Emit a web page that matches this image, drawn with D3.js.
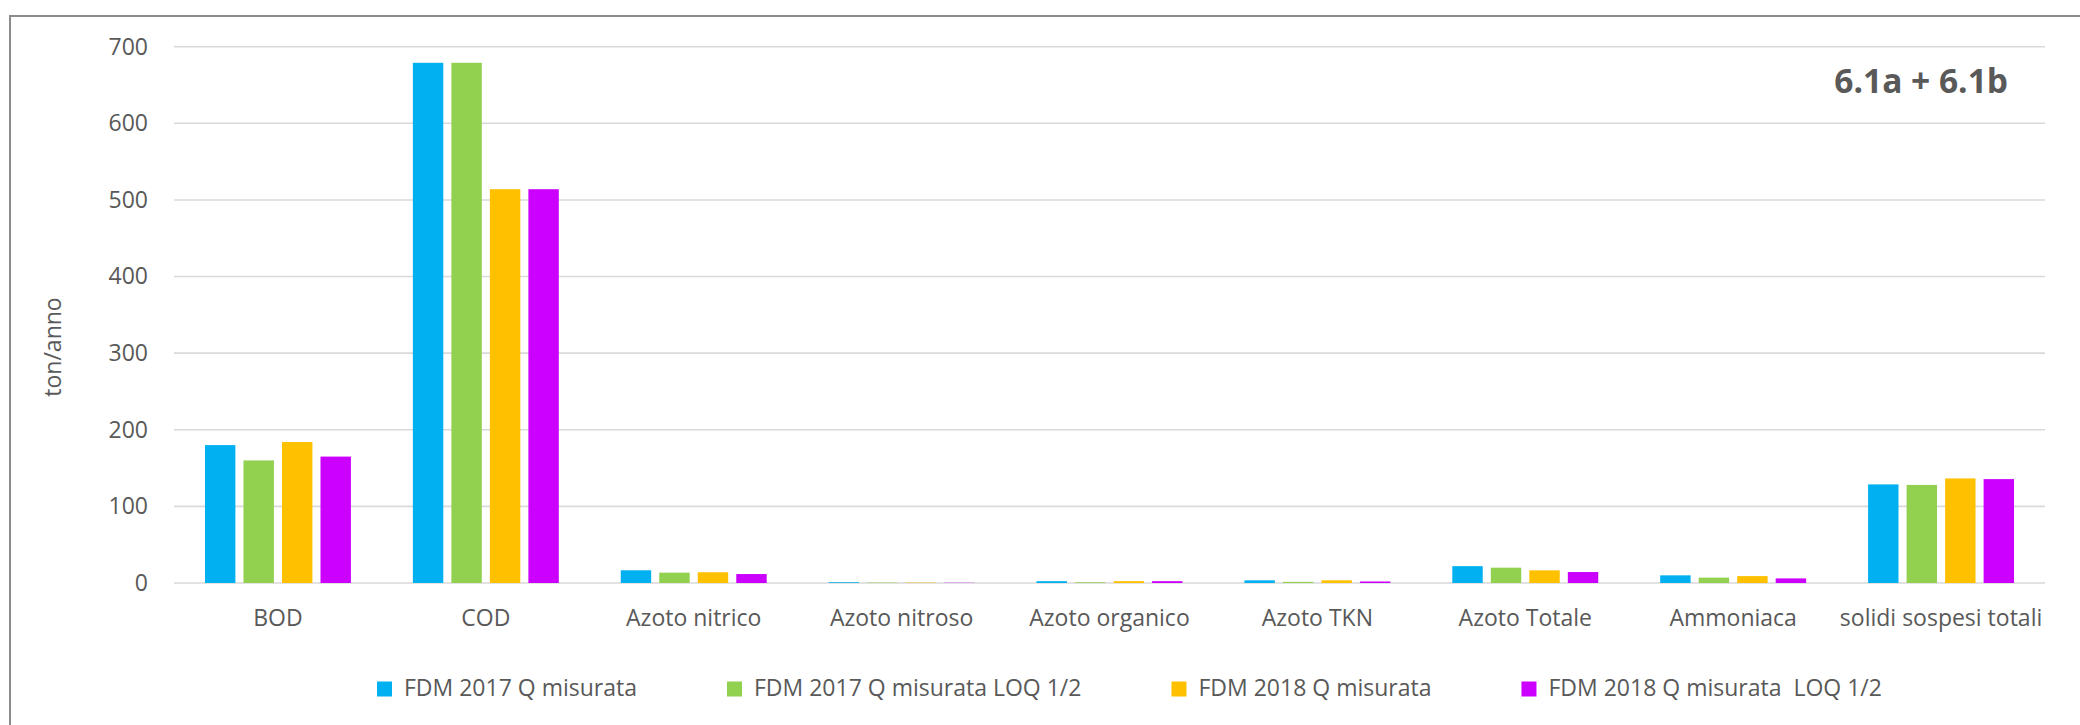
<!DOCTYPE html>
<html>
<head>
<meta charset="utf-8">
<script src="https://cdn.jsdelivr.net/npm/d3@7"></script>
<style>
  html, body { margin: 0; padding: 0; background: #fff; }
  svg { display: block; }
  text { font-family: "Open Sans", sans-serif; fill: #595959; }
</style>
</head>
<body>
<svg id="chart" width="2080" height="725"></svg>
<script>
const categories = ["BOD", "COD", "Azoto nitrico", "Azoto nitroso", "Azoto organico", "Azoto TKN", "Azoto Totale", "Ammoniaca", "solidi sospesi totali"];
const seriesNames = ["FDM 2017 Q misurata", "FDM 2017 Q misurata LOQ 1/2", "FDM 2018 Q misurata", "FDM 2018 Q misurata  LOQ 1/2"];
const seriesColors = ["#00B0F0", "#92D050", "#FFC000", "#CC00FF"];
const fdm2017 =       [180, 679, 16.6, 1.0, 2.4, 3.5, 22.0, 10.0, 128.7];
const fdm2017LOQ =    [160, 679, 13.5, 0.5, 1.0, 1.5, 20.0,  7.0, 128.0];
const fdm2018 =       [184, 514, 14.0, 0.5, 2.4, 3.5, 16.5,  9.0, 136.5];
const fdm2018LOQ =    [165, 514, 11.7, 0.3, 2.4, 2.0, 14.3,  6.0, 135.6];
const yTicks = [0, 100, 200, 300, 400, 500, 600, 700];
const yLabel = "ton/anno";
const annotation = "6.1a + 6.1b";

const seriesValues = [fdm2017, fdm2017LOQ, fdm2018, fdm2018LOQ];

const svg = d3.select("#chart");

// outer frame
svg.append("rect")
  .attr("x", 10).attr("y", 16)
  .attr("width", 2200).attr("height", 900)
  .attr("fill", "none").attr("stroke", "#8c8c8c").attr("stroke-width", 2);

const y = d3.scaleLinear().domain([0, 700]).range([583, 46.7]);
const x0 = d3.scaleBand().domain(categories).range([174, 2045])
  .paddingInner(0.298).paddingOuter(0.149);
const x1 = d3.scaleBand().domain(d3.range(seriesNames.length))
  .range([0, x0.bandwidth()]).paddingInner(0.21);

// gridlines
svg.append("g").selectAll("line").data(yTicks).join("line")
  .attr("x1", 174).attr("x2", 2045)
  .attr("y1", d => y(d)).attr("y2", d => y(d))
  .attr("stroke", "#d9d9d9").attr("stroke-width", 1.6);

// y axis tick labels
const yAxis = d3.axisLeft(y).tickValues(yTicks).tickSize(0).tickPadding(0);
const gy = svg.append("g").attr("transform", "translate(148,0)").call(yAxis);
gy.select(".domain").remove();
gy.selectAll("text")
  .attr("font-family", "Open Sans, sans-serif")
  .attr("font-size", 23).attr("fill", "#595959");

// bars
const groups = svg.append("g").selectAll("g").data(categories).join("g")
  .attr("transform", d => `translate(${x0(d)},0)`);
groups.selectAll("rect")
  .data((c, ci) => seriesValues.map((vals, si) => ({ si, v: vals[ci] })))
  .join("rect")
  .attr("x", d => x1(d.si))
  .attr("width", x1.bandwidth())
  .attr("y", d => y(d.v))
  .attr("height", d => y(0) - y(d.v))
  .attr("fill", d => seriesColors[d.si]);

// x axis category labels
const xAxis = d3.axisBottom(x0).tickSize(0).tickPadding(0);
const gx = svg.append("g").attr("transform", "translate(0,583)").call(xAxis);
gx.select(".domain").remove();
gx.selectAll("text")
  .attr("font-family", "Open Sans, sans-serif")
  .attr("font-size", 23).attr("fill", "#595959")
  .attr("dy", null).attr("y", 43);

// y label
svg.append("text")
  .attr("transform", "translate(61,347) rotate(-90)")
  .attr("text-anchor", "middle")
  .attr("font-size", 23)
  .text(yLabel);

// annotation
svg.append("text")
  .attr("x", 2008).attr("y", 93)
  .attr("text-anchor", "end")
  .attr("font-size", 33.5).attr("font-weight", "bold")
  .text(annotation);

// legend
const legend = svg.append("g");
let lx = 377;
seriesNames.forEach((name, i) => {
  legend.append("rect")
    .attr("x", lx).attr("y", 681.5).attr("width", 15).attr("height", 15)
    .attr("fill", seriesColors[i]);
  const t = legend.append("text")
    .attr("x", lx + 27).attr("y", 696)
    .attr("font-size", 23)
    .style("white-space", "pre")
    .attr("xml:space", "preserve")
    .text(name);
  lx += 27 + t.node().getComputedTextLength() + 90;
});
</script>
</body>
</html>
